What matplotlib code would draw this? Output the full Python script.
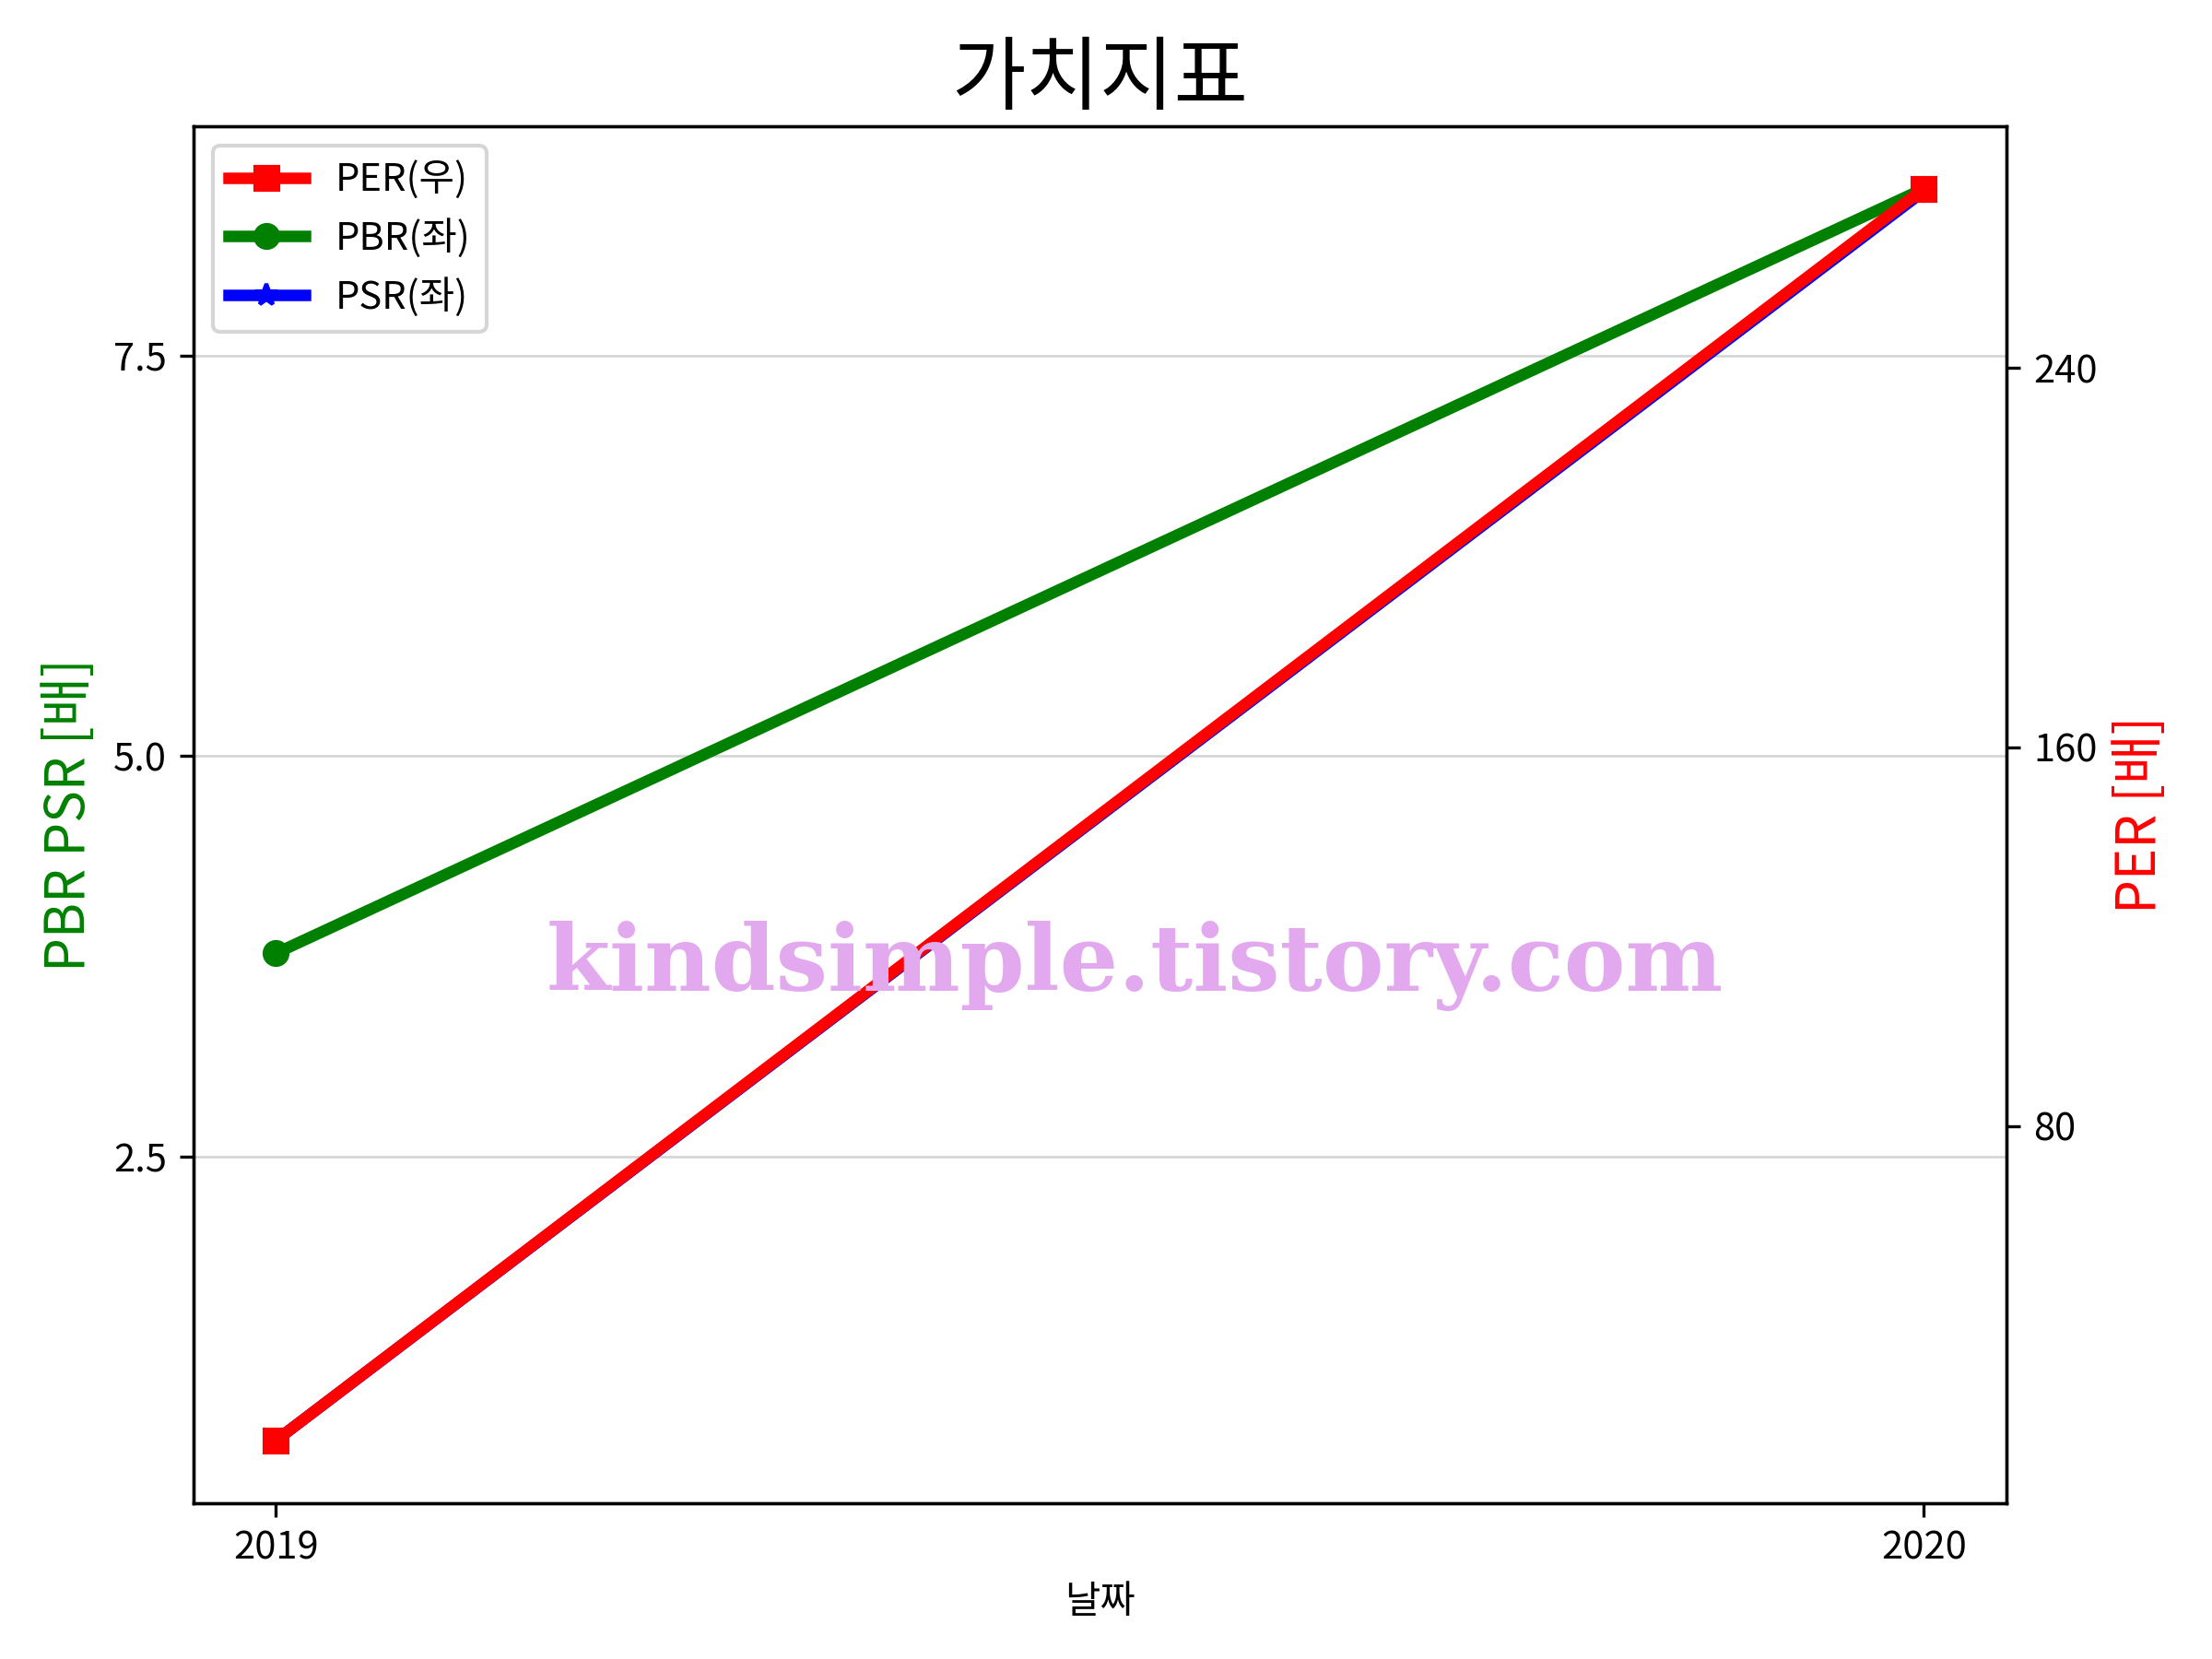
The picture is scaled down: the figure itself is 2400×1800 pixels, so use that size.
import matplotlib
matplotlib.use("Agg")
import matplotlib.pyplot as plt

plt.rcParams['font.family'] = ['Noto Sans CJK KR', 'DejaVu Sans']

years = ["2019", "2020"]
per = [13.7, 277.8]
pbr = [3.77, 8.54]
psr = [0.73, 8.525]

fig, ax1 = plt.subplots(figsize=(8, 6), dpi=300)
fig.subplots_adjust(left=0.0875, right=0.907, top=0.924, bottom=0.094)
ax2 = ax1.twinx()

l2, = ax1.plot(years, pbr, color="green", marker="o", linewidth=3, label="PBR(좌)")
l3, = ax1.plot(years, psr, color="blue", marker="*", linewidth=3, label="PSR(좌)")
l1, = ax2.plot(years, per, color="red", marker="s", linewidth=3, label="PER(우)")

ax1.grid(axis="y", color="lightgray", linewidth=0.6)
ax1.set_yticks([2.5, 5.0, 7.5])
ax2.set_yticks([80, 160, 240])

ax1.set_ylabel("PBR PSR [배]", color="green", fontsize=14)
ax2.set_ylabel("PER [배]", color="red", fontsize=14)
ax1.set_xlabel("날짜")
plt.title("가치지표", fontsize=21)

ax1.legend(handles=[l1, l2, l3], loc="upper left")

ax2.text(0.519, 0.39, "kindsimple.tistory.com", transform=ax2.transAxes,
         fontsize=24, fontfamily="DejaVu Serif", fontweight="heavy",
         color="#E3A9EF", ha="center", va="center", zorder=10)

plt.savefig("out.png")
